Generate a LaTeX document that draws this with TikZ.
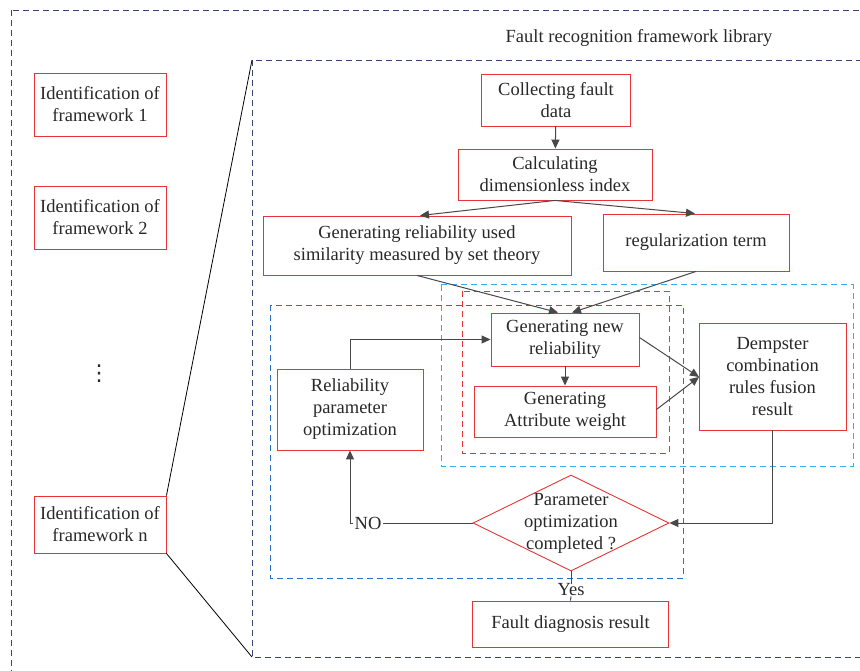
\documentclass[tikz,border=0pt]{standalone}
\usepackage{fontspec}
\setmainfont{Liberation Serif}
\newfontfamily\dotsfont{DejaVu Sans}
\usetikzlibrary{shapes.geometric}
\usetikzlibrary{arrows.meta}

\definecolor{boxred}{RGB}{232,52,52}
\definecolor{framenavy}{RGB}{62,66,112}
\definecolor{groupblue}{RGB}{40,112,204}
\definecolor{groupcyan}{RGB}{56,170,240}
\definecolor{linegray}{RGB}{72,72,72}
\definecolor{textgray}{RGB}{40,40,40}

\tikzset{
  stepbox/.style={rectangle,draw=boxred,line width=0.9pt,align=center,text=textgray,
    font=\fontsize{18.5}{22}\selectfont,inner sep=2pt},
  flow/.style={draw=linegray,line width=1pt,-{Triangle[length=9pt,width=8pt]}},
  plain/.style={draw=linegray,line width=1pt},
  framedash/.style={draw=framenavy,line width=0.9pt,dash pattern=on 6pt off 4pt},
}

\begin{document}
\begin{tikzpicture}[x=1pt,y=-1pt]
\useasboundingbox (0,0) rectangle (860,671);
\clip (0,0) rectangle (860,671);

% library frames
\draw[framedash] (11,10) rectangle (900,720);
\draw[framedash] (252,60) rectangle (900,657);
\coordinate (libTL) at (252,60);
\coordinate (libBL) at (252,657);
\node[font=\fontsize{18.5}{22}\selectfont,text=textgray] (title) at (639,38) {Fault recognition framework library};

% group frames
\draw[draw=groupcyan,line width=1pt,dash pattern=on 6pt off 4pt] (441,285) rectangle (853,466);
\draw[draw=boxred,line width=0.9pt,dash pattern=on 6pt off 4pt] (462,291) rectangle (669,453);
\draw[draw=groupblue,line width=0.9pt,dash pattern=on 6pt off 4pt] (270,305) rectangle (683,578);

% framework identifications
\node[stepbox,minimum width=132pt,minimum height=63pt] (id1) at (100,104.5) {Identification of\\framework 1};
\node[stepbox,minimum width=132pt,minimum height=63pt] (id2) at (100,217.5) {Identification of\\framework 2};
\node[text=textgray,font=\dotsfont\fontsize{22}{22}\selectfont,inner sep=0pt] (dots) at (99,374) {⋮};
\node[stepbox,minimum width=132pt,minimum height=57pt] (idn) at (100,524.5) {Identification of\\framework n};
\draw[line width=0.8pt] (idn.north east) -- (libTL);
\draw[line width=0.8pt] (idn.south east) -- (libBL);

% recognition flow
\node[stepbox,minimum width=149pt,minimum height=52pt] (collect) at (556,100) {Collecting fault\\data};
\node[stepbox,minimum width=194pt,minimum height=51pt] (calc) at (555,174.5) {Calculating\\dimensionless index};
\node[stepbox,minimum width=308pt,minimum height=59pt] (simil) at (417,245.5) {Generating reliability used\\similarity measured by set theory};
\node[stepbox,minimum width=186pt,minimum height=57pt] (regul) at (696,242.5) {regularization term};
\node[stepbox,minimum width=148pt,minimum height=53pt] (newrel) at (565,339.5) {Generating new\\reliability};
\node[stepbox,minimum width=182pt,minimum height=51pt] (attrw) at (565,411.5) {Generating\\Attribute weight};
\node[stepbox,minimum width=146pt,minimum height=81pt] (paropt) at (350,409.5) {Reliability\\parameter\\optimization};
\node[stepbox,minimum width=147pt,minimum height=107pt] (dempster) at (772.5,376.5) {Dempster\\combination\\rules fusion\\result};
\node[diamond,draw=boxred,line width=0.9pt,align=center,text=textgray,font=\fontsize{18.5}{22}\selectfont,
  minimum width=196pt,minimum height=96pt,inner xsep=-4pt,inner ysep=-4pt,aspect=2.04] (decide) at (571,523) {Parameter\\optimization\\completed ?};
\node[stepbox,minimum width=196pt,minimum height=46pt] (result) at (570.5,624) {Fault diagnosis result};
\node[text=textgray,font=\fontsize{18.5}{22}\selectfont,inner sep=1pt] (no) at (368,523) {NO};
\node[text=textgray,font=\fontsize{18.5}{22}\selectfont,inner sep=0pt] (yes) at (571,590) {Yes};
\coordinate (dsin) at (699,377);

\draw[flow] (collect) -- (calc);
\draw[flow] (calc.south) -- ([xshift=3pt]simil.north);
\draw[flow] (calc.south) -- ([xshift=-1pt]regul.north);
\draw[flow] (simil.south) -- ([xshift=-7pt]newrel.north);
\draw[flow] (regul.south) -- ([xshift=7pt]newrel.north);
\draw[flow] (paropt.north) |- (newrel.west);
\draw[flow] (newrel) -- (attrw);
\draw[flow] ([yshift=2pt]newrel.east) -- (dsin);
\draw[flow] ([yshift=2pt]attrw.east) -- (dsin);
\draw[flow] (dempster.south) |- (decide.east);
\draw[plain] (decide.west) -- (no.east);
\draw[flow] (no.west) -| (paropt.south);
\draw[plain] (decide.south) -- (yes.north);
\draw[plain] (yes.south) -- (result.north);

\end{tikzpicture}
\end{document}
